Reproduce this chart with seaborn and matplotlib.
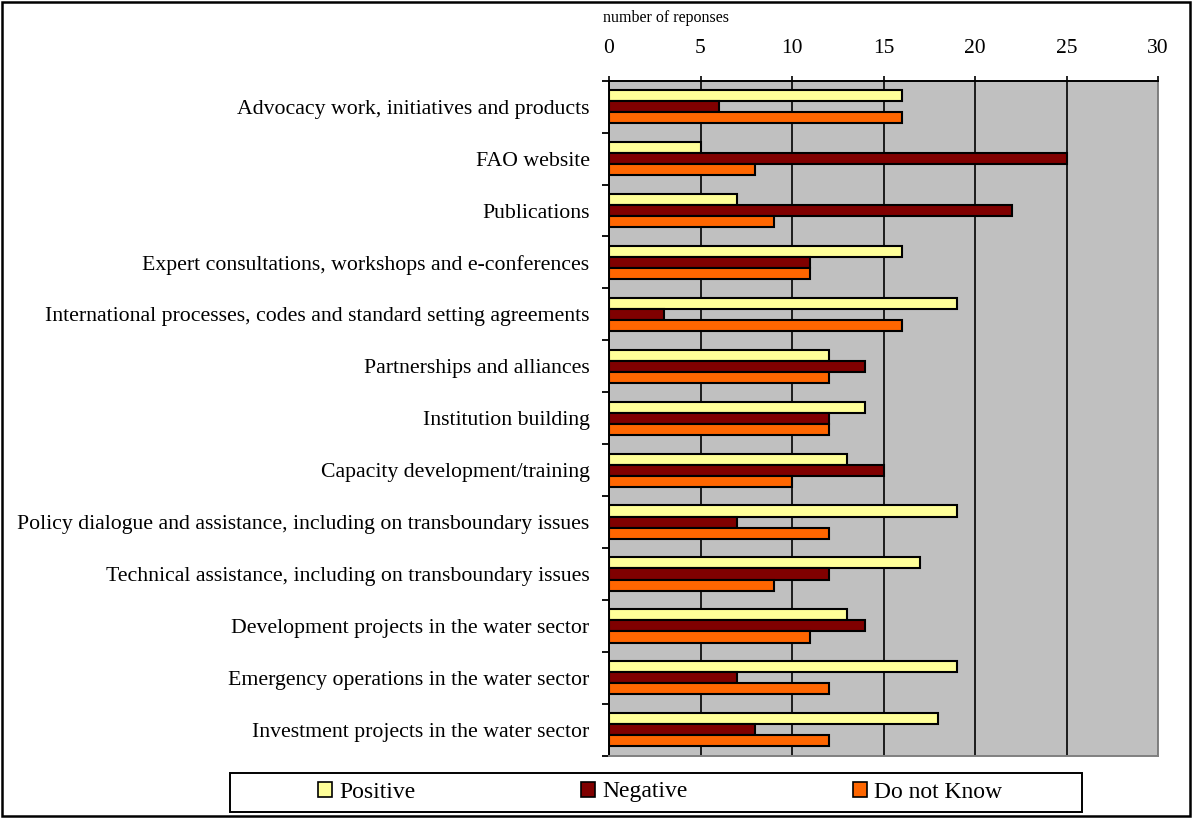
import matplotlib
matplotlib.use("Agg")
import matplotlib.pyplot as plt
import seaborn as sns
import pandas as pd
from matplotlib.patches import Patch, Rectangle

categories = [
    "Advocacy work, initiatives and products",
    "FAO website",
    "Publications",
    "Expert consultations, workshops and e-conferences",
    "International processes, codes and standard setting agreements",
    "Partnerships and alliances",
    "Institution building",
    "Capacity development/training",
    "Policy dialogue and assistance, including on transboundary issues",
    "Technical assistance, including on transboundary issues",
    "Development projects in the water sector",
    "Emergency operations in the water sector",
    "Investment projects in the water sector",
]
positive = [16, 5, 7, 16, 19, 12, 14, 13, 19, 17, 13, 19, 18]
negative = [6, 25, 22, 11, 3, 14, 12, 15, 7, 12, 14, 7, 8]
do_not_know = [16, 8, 9, 11, 16, 12, 12, 10, 12, 9, 11, 12, 12]
series_names = ["Positive", "Negative", "Do not Know"]
colors = ["#FFFF99", "#800000", "#FF6600"]
x_ticks = [0, 5, 10, 15, 20, 25, 30]

rows = []
for name, vals in zip(series_names, [positive, negative, do_not_know]):
    for c, v in zip(categories, vals):
        rows.append({"category": c, "value": v, "series": name})
df = pd.DataFrame(rows)

sns.set_style("white")
plt.rcParams["font.family"] = ["Liberation Serif", "DejaVu Serif"]
plt.rcParams["text.color"] = "black"
plt.rcParams["xtick.color"] = "black"
plt.rcParams["ytick.color"] = "black"
plt.rcParams["xtick.labelcolor"] = "black"
plt.rcParams["ytick.labelcolor"] = "black"

fig = plt.figure(figsize=(11.92, 8.18), dpi=100)
ax = fig.add_axes([609 / 1192, 1 - 755.7 / 818, (1158 - 609) / 1192, (755.7 - 80.7) / 818])
ax.set_facecolor("#C0C0C0")

sns.barplot(data=df, x="value", y="category", hue="series", orient="h",
            order=categories, hue_order=series_names, palette=colors,
            saturation=1, width=0.64, edgecolor="black", linewidth=1.5,
            legend=False, ax=ax)

ax.set_xlim(0, 30)
ax.set_ylim(len(categories) - 0.5, -0.5)
ax.set_xlabel("")
ax.set_ylabel("")

# x axis on top
ax.xaxis.tick_top()
ax.set_xticks(x_ticks)
ax.set_xticklabels([str(t) for t in x_ticks], fontsize=15.5, color="black")
ax.tick_params(axis="x", direction="out", length=3.6, width=1.2, pad=13, colors="black")

# y ticks: marks at boundaries, labels at centers
ax.set_yticks([i - 0.5 for i in range(len(categories) + 1)])
ax.set_yticklabels([])
ax.set_yticks(list(range(len(categories))), minor=True)
ax.set_yticklabels(categories, minor=True, fontsize=15.7, color="black")
ax.tick_params(axis="y", which="major", direction="out", length=5, width=1.3, left=True, colors="black")
ax.tick_params(axis="y", which="minor", length=0, pad=14, left=True)

ax.set_axisbelow(True)
ax.xaxis.grid(True, color="black", linewidth=1.2)
ax.yaxis.grid(False)

for side in ["top", "left"]:
    ax.spines[side].set_color("black")
    ax.spines[side].set_linewidth(1.4)
for side in ["right", "bottom"]:
    ax.spines[side].set_visible(True)
    ax.spines[side].set_color("#808080")
    ax.spines[side].set_linewidth(1.4)

fig.text(603 / 1192, 1 - 18 / 818, "number of reponses", fontsize=11.5, va="center", ha="left",
         color="black")

# legend
handles = [Patch(facecolor=c, edgecolor="black", linewidth=1.2) for c in colors]
fig.legend(handles, series_names, loc="center", bbox_to_anchor=(660 / 1192, 1 - 792 / 818),
           ncol=3, frameon=False, fontsize=17, handlelength=0.6, handleheight=0.6,
           handletextpad=0.3, columnspacing=7.0, labelcolor="black")
fig.patches.append(Rectangle((230 / 1192, 1 - 812 / 818), (1082 - 230) / 1192, (812 - 773) / 818,
                             transform=fig.transFigure, fill=False, edgecolor="black", linewidth=1.4))
# outer border
fig.patches.append(Rectangle((2 / 1192, 2 / 818), 1188 / 1192, 814 / 818,
                             transform=fig.transFigure, fill=False, edgecolor="black", linewidth=1.8))

fig.savefig("out.png", dpi=100)
